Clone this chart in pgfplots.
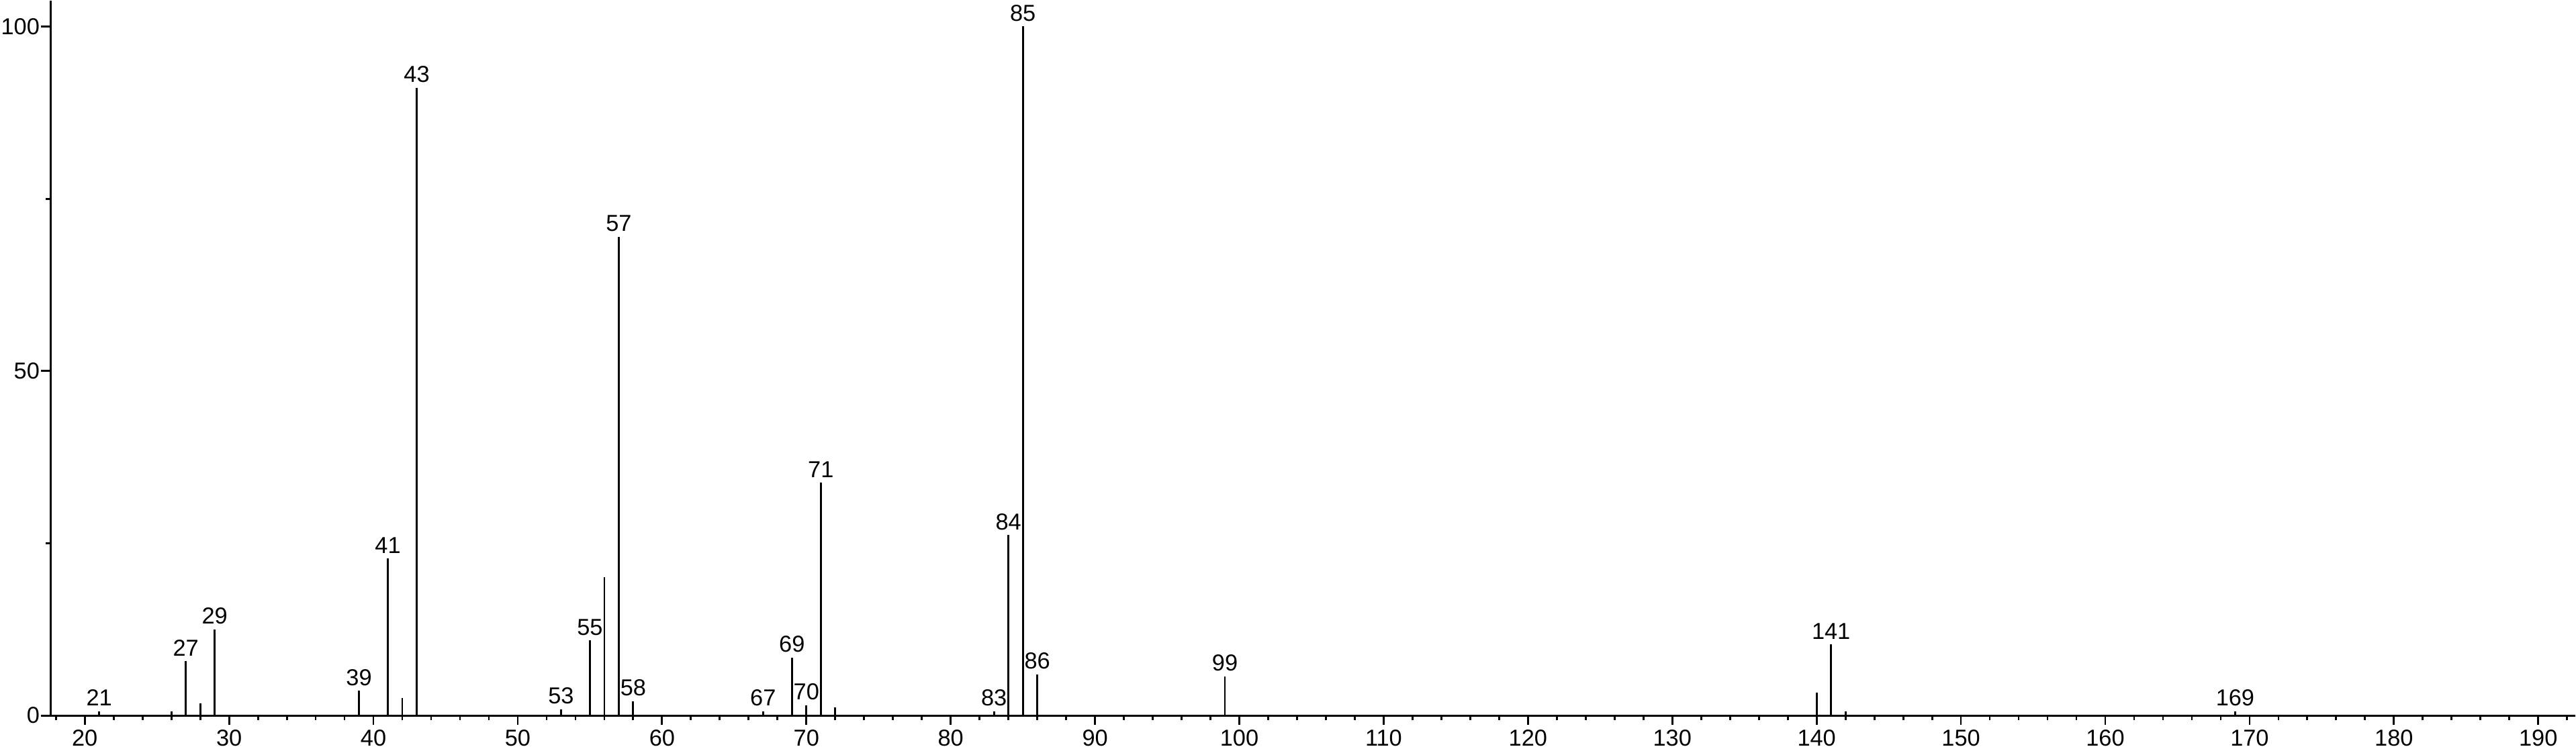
\documentclass[border=0pt]{standalone}
\usepackage{fontspec}
\setmainfont{Liberation Sans}
\usepackage{pgfplots}
\pgfplotsset{compat=1.18}
\begin{document}
\begin{tikzpicture}
\begin{axis}[
  scale only axis,
  width=941bp, height=266.5bp,
  xmin=17.63, xmax=192.55,
  ymin=0, ymax=103.7,
  axis x line=bottom, axis y line=left,
  axis line style={-, line width=0.75bp},
  every tick/.style={black, line width=0.7bp},
  tick align=outside,
  major tick length=3.5bp, minor tick length=1.75bp,
  xtick={20,30,...,190},
  minor xtick={18,22,24,26,28,32,34,36,38,42,44,46,48,52,54,56,58,62,64,66,68,72,74,76,78,82,84,86,88,92,94,96,98,102,104,106,108,112,114,116,118,122,124,126,128,132,134,136,138,142,144,146,148,152,154,156,158,162,164,166,168,172,174,176,178,182,184,186,188,192},
  ytick={0,50,100},
  minor ytick={25,75},
  /pgf/number format/assume math mode=true,
  tick label style={font=\fontsize{8.6bp}{10bp}\selectfont},
  xticklabel style={inner sep=1.7bp},
  yticklabel style={inner sep=0.4bp},
  clip=false,
]
\addplot[ycomb, black, line width=0.7bp, mark=none] coordinates {
(26,0.6) (28,1.8) (42,2.5) (56,20.1) (72,1.2) (140,3.3) (142,0.6)
};
\addplot[ycomb, black, line width=0.7bp, mark=none,
  nodes near coords={\pgfmathprintnumber[fixed,precision=0]{\pgfplotspointmeta}},
  point meta=x,
  nodes near coords style={font=\fontsize{8.6bp}{10bp}\selectfont, anchor=base, inner sep=0pt, yshift=2bp},
] coordinates {
(21,0.6) (27,7.9) (29,12.5) (39,3.6) (41,22.8) (43,91.1)
(53,0.9) (55,10.9) (57,69.5) (58,2.1) (67,0.6) (69,8.4) (70,1.5) (71,33.8)
(83,0.6) (84,26.2) (85,100) (86,6.0) (99,5.7) (141,10.3) (169,0.6)
};
\end{axis}
\end{tikzpicture}
\end{document}
